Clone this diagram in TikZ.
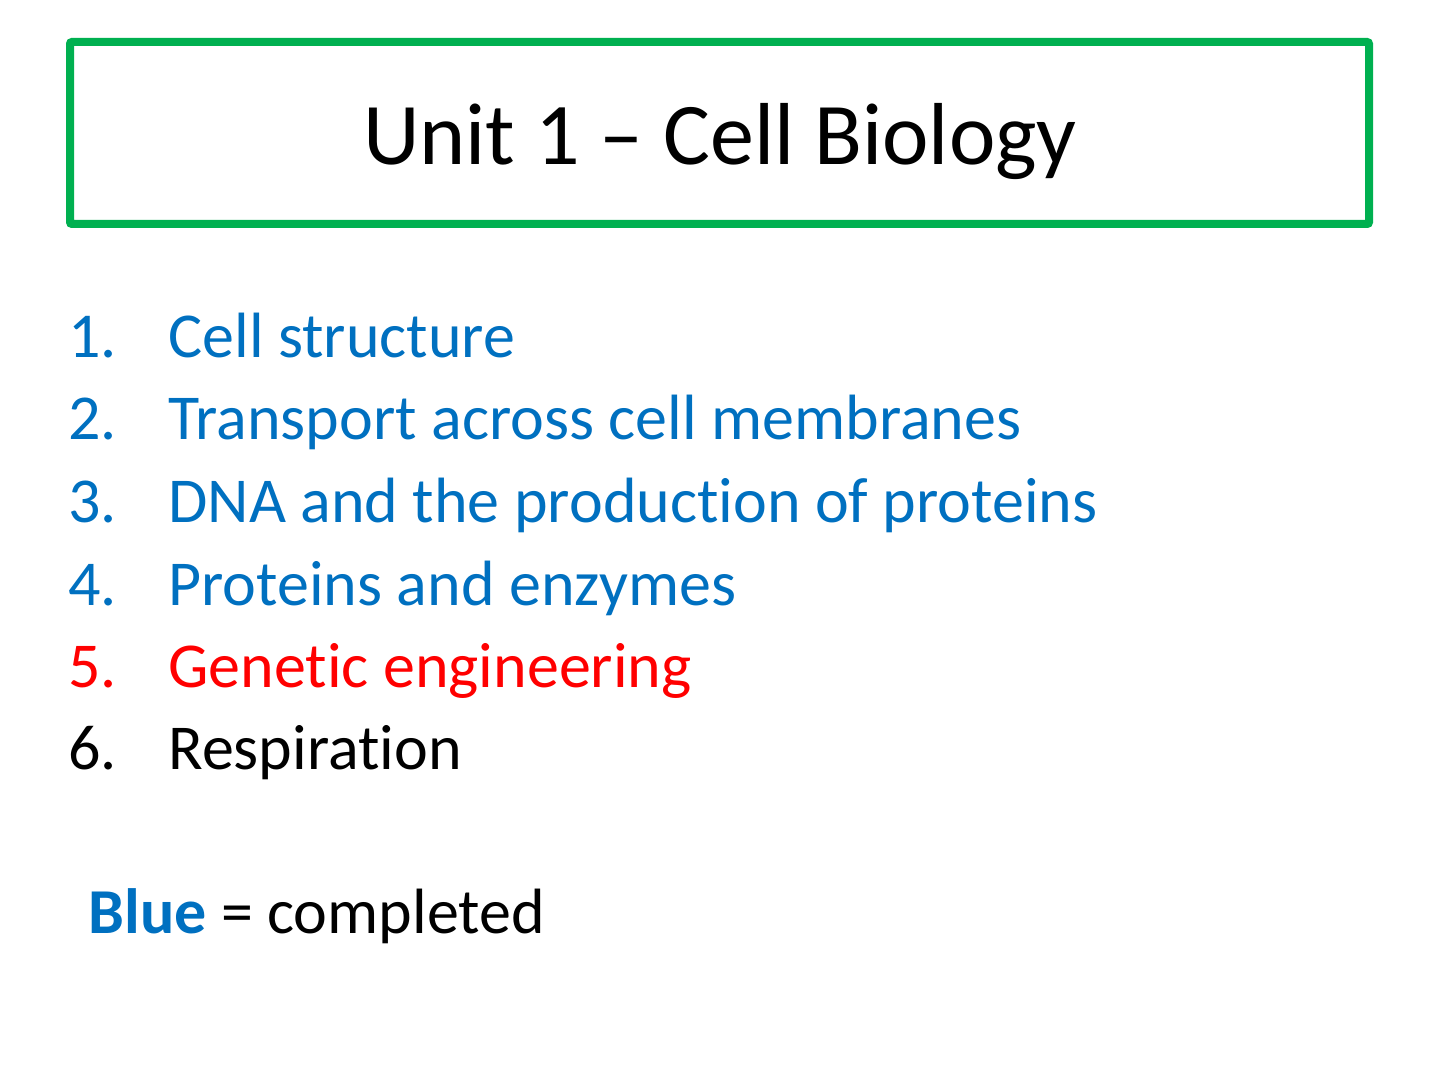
\documentclass[tikz,border=0pt]{standalone}
\usepackage{fontspec}
\setmainfont{Carlito}[Ligatures={TeX,CommonOff}]
\definecolor{unitgreen}{HTML}{00B050}
\definecolor{doneblue}{HTML}{0070C0}
\definecolor{nowred}{HTML}{FF0000}
\tikzset{listitem/.style={anchor=base west, inner sep=0pt, font=\fontsize{32}{38}\selectfont}}
\begin{document}
\begin{tikzpicture}[x=.5pt,y=-.5pt]
\useasboundingbox (0,0) rectangle (1440,1080);
\node[draw=unitgreen, line width=4pt, rounded corners=1pt, inner sep=0pt,
      minimum width=649.5pt, minimum height=91pt] (box) at (719.5,133) {};
\node[anchor=base, inner sep=0pt, font=\fontsize{44}{53}\selectfont] (title) at (720,165) {Unit 1 – Cell Biology};
\foreach \i/\y/\c/\n in {1/358/doneblue/Cell structure,
    2/440/doneblue/Transport across cell membranes,
    3/523/doneblue/DNA and the production of proteins,
    4/605/doneblue/Proteins and enzymes,
    5/687/nowred/Genetic engineering,
    6/769/black/Respiration}{
    \node[listitem, text=\c] (num\i) at (68,\y) {\i.};
    \node[listitem, text=\c] (item\i) at (168,\y) {\n};
}
\node[listitem] (key) at (88,933) {\textbf{\textcolor{doneblue}{Blue}} = completed};
\end{tikzpicture}
\end{document}
